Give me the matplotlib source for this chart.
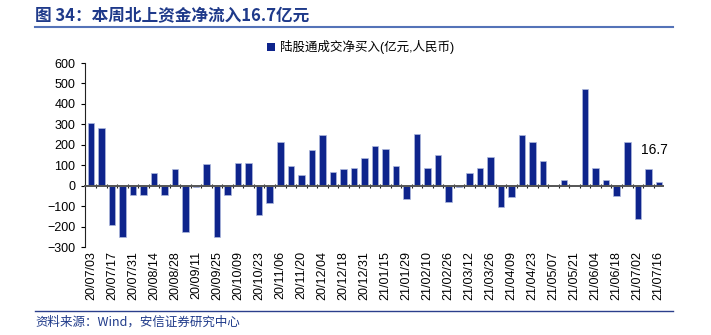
import matplotlib.pyplot as plt
import numpy as np
from matplotlib.lines import Line2D
from matplotlib.patches import Patch

plt.rcParams['font.family'] = ['Liberation Sans', 'Noto Sans CJK SC', 'DejaVu Sans']

# 陆股通每周成交净买入（亿元）
net_buy = [307, 284, -192, -252, -44, -44, 62, -44, 82, -228,
           -8, 105, -252, -44, 110, 110, -143, -85, 212, 94,
           53, 173, 248, 69, 82, 87, 137, 196, 181, 94,
           -67, 255, 87, 148, -79, -8, 62, 87, 140, -102,
           -54, 248, 212, 123, -3, 28, -3, 475, 87, 28,
           -49, 212, -163, 82, 16.7]
tick_labels = ['20/07/03', '20/07/17', '20/07/31', '20/08/14', '20/08/28',
               '20/09/11', '20/09/25', '20/10/09', '20/10/23', '20/11/06',
               '20/11/20', '20/12/04', '20/12/18', '20/12/31', '21/01/15',
               '21/01/29', '21/02/10', '21/02/26', '21/03/12', '21/03/26',
               '21/04/09', '21/04/23', '21/05/07', '21/05/21', '21/06/04',
               '21/06/18', '21/07/02', '21/07/16']
legend_label = '陆股通成交净买入(亿元,人民币)'
title = '图 34：本周北上资金净流入16.7亿元'
source = '资料来源：Wind，安信证券研究中心'

bar_color = '#0E248C'
blue = '#1F3A8A'

fig = plt.figure(figsize=(7.11, 3.35), dpi=100)
ax = fig.add_axes([85 / 711, 1 - 247 / 335, 578 / 711, 184 / 335])

x = np.arange(len(net_buy))
ax.bar(x, net_buy, width=0.62, color=bar_color, edgecolor='#AEB9DC', linewidth=0.5, zorder=2)

ax.set_ylim(-300, 600)
ax.set_yticks(np.arange(-300, 601, 100))
ax.set_xlim(-0.57, len(net_buy) - 1 + 0.4)

for s in ['top', 'right']:
    ax.spines[s].set_visible(False)
ax.spines['left'].set_color('#222222')
ax.spines['left'].set_linewidth(0.8)
ax.spines['bottom'].set_position(('data', 0))
ax.spines['bottom'].set_color('#555555')
ax.spines['bottom'].set_linewidth(1.4)
ax.spines['bottom'].set_zorder(3)

ax.tick_params(axis='y', direction='out', length=3, width=0.8, labelsize=9, pad=4)
ax.set_xticks([])
ax.set_xticks(np.arange(len(net_buy) - 1) + 0.5, minor=True)
ax.tick_params(axis='x', which='minor', direction='inout', length=3.5, width=0.8, color='#222222')

# 日期标签放在坐标轴底部
sec = ax.secondary_xaxis(0.0)
sec.spines['bottom'].set_visible(False)
sec.set_xticks(x[::2])
sec.set_xticklabels(tick_labels, rotation=90, fontsize=9)
sec.tick_params(axis='x', length=0, pad=3)

ax.annotate(f'{net_buy[-1]:g}', xy=(x[-1], net_buy[-1]), xytext=(-3, 23),
            textcoords='offset points', ha='center', va='center', fontsize=10)

handle = Patch(facecolor=bar_color, edgecolor='none')
ax.legend([handle], [legend_label], loc='center', bbox_to_anchor=(0.477, 1.087),
          frameon=False, fontsize=9, handlelength=0.6, handleheight=0.6,
          handletextpad=0.4, borderaxespad=0)

fig.text(35 / 711, 1 - 16 / 335, title, fontsize=12, fontweight='bold', color=blue,
         va='center', ha='left', family=['Noto Sans CJK SC', 'DejaVu Sans'])
fig.add_artist(Line2D([35 / 711, 673 / 711], [1 - 27 / 335] * 2, color='#5473B8', linewidth=1.5))
fig.add_artist(Line2D([35 / 711, 673 / 711], [1 - 311 / 335] * 2, color='#2B3F8C', linewidth=1.0))
fig.text(35 / 711, 1 - 322 / 335, source, fontsize=9, style='italic', color=blue,
         va='center', ha='left', family=['Noto Sans CJK SC', 'DejaVu Sans'])

fig.savefig('out.png', dpi=100)
